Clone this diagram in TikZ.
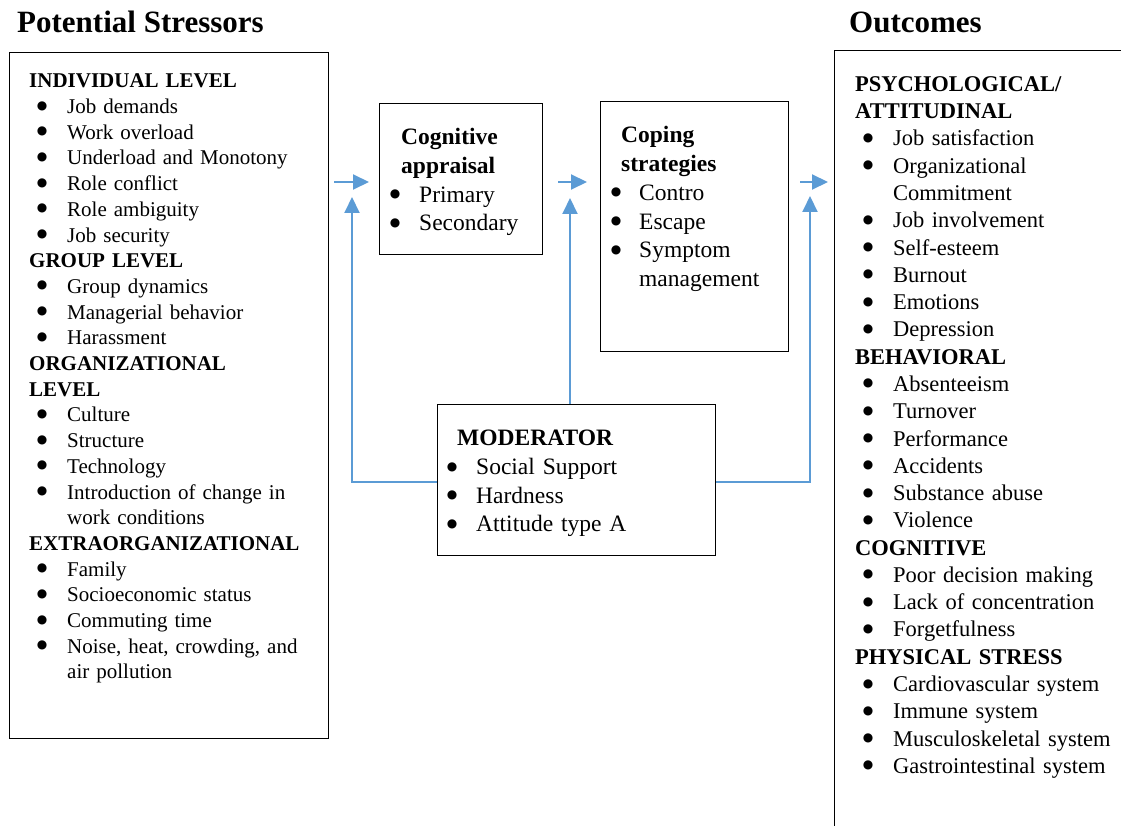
\documentclass[tikz,border=0pt]{standalone}
\usepackage{fontspec}
\setmainfont{Liberation Serif}
\newfontfamily\symfont{DejaVu Sans}
\usetikzlibrary{arrows.meta}

\definecolor{flowblue}{HTML}{5B9BD5}

% list lines: heading, bulleted item, continued item
\newcommand\bdot{\raisebox{4.5pt}{\fontsize{12}{12}\symfont ●}}
\newcommand\hd[1]{\par\noindent\hspace*{\hdx}\textbf{#1}}
\newcommand\bi[1]{\par\noindent\hspace*{\bux}\makebox[0pt]{\bdot}\hspace*{\dimexpr\txx-\bux\relax}#1}
\newcommand\bc[1]{\par\noindent\hspace*{\txx}#1}

\tikzset{
  box/.style={draw, line width=1.2pt, inner sep=0pt, anchor=north west},
  list/.style={anchor=north west, inner sep=0pt, text width=#1},
  offs/.style n args={3}{execute at begin node={\def\hdx{#1pt}\def\bux{#2pt}\def\txx{#3pt}}},
  head/.style={anchor=base west, inner sep=0pt, font=\fontsize{31}{36}\selectfont\bfseries},
  flow/.style={flowblue, line width=2pt, -{Triangle[length=16pt,width=15pt]}},
}

\begin{document}
\begin{tikzpicture}[x=1pt,y=-1pt]
        \useasboundingbox (0,0) rectangle (1121,826);
        \clip (0,0) rectangle (1121,826);

        \node[head] (titleL) at (17,33) {Potential Stressors};
        \node[head] (titleR) at (849,33) {Outcomes};

        % boxes
        \node[box, minimum width=319, minimum height=686] (stress) at (9,52) {};
        \node[box, minimum width=163, minimum height=151] (appr) at (379,103) {};
        \node[box, minimum width=188, minimum height=250] (coping) at (600,101) {};
        \node[box, minimum width=278, minimum height=151] (moder) at (437,404) {};
        \node[box, minimum width=400, minimum height=900] (outc) at (834,50) {};

        % texts (top of node = first baseline - 0.7 baselineskip)
        \node[list=315, offs={20}{33}{58}, font=\fontsize{21}{25.7}\selectfont] (stresslist) at (9,62) {%
          \hd{INDIVIDUAL LEVEL}
          \bi{Job demands}
          \bi{Work overload}
          \bi{Underload and Monotony}
          \bi{Role conflict}
          \bi{Role ambiguity}
          \bi{Job security}
          \hd{GROUP LEVEL}
          \bi{Group dynamics}
          \bi{Managerial behavior}
          \bi{Harassment}
          \hd{ORGANIZATIONAL}
          \hd{LEVEL}
          \bi{Culture}
          \bi{Structure}
          \bi{Technology}
          \bi{Introduction of change in}
          \bc{work conditions}
          \hd{EXTRAORGANIZATIONAL}
          \bi{Family}
          \bi{Socioeconomic status}
          \bi{Commuting time}
          \bi{Noise, heat, crowding, and}
          \bc{air pollution}};
        \node[list=160, offs={22}{16}{40}, font=\fontsize{23.5}{28.7}\selectfont] (apprlist) at (379,115.9) {%
          \hd{Cognitive}
          \hd{appraisal}
          \bi{Primary}
          \bi{Secondary}};
        \node[list=185, offs={21}{16}{39}, font=\fontsize{23.5}{28.8}\selectfont] (copinglist) at (600,113.8) {%
          \hd{Coping}
          \hd{strategies}
          \bi{Contro}
          \bi{Escape}
          \bi{Symptom}
          \bc{management}};
        \node[list=275, offs={20}{15}{39}, font=\fontsize{23.5}{28.7}\selectfont] (moderlist) at (437,416.9) {%
          \hd{MODERATOR}
          \bi{Social Support}
          \bi{Hardness}
          \bi{Attitude type A}};
        \node[list=300, offs={21}{34}{59}, font=\fontsize{22.5}{27.28}\selectfont] (outclist) at (834,63.9) {%
          \hd{PSYCHOLOGICAL/}
          \hd{ATTITUDINAL}
          \bi{Job satisfaction}
          \bi{Organizational}
          \bc{Commitment}
          \bi{Job involvement}
          \bi{Self-esteem}
          \bi{Burnout}
          \bi{Emotions}
          \bi{Depression}
          \hd{BEHAVIORAL}
          \bi{Absenteeism}
          \bi{Turnover}
          \bi{Performance}
          \bi{Accidents}
          \bi{Substance abuse}
          \bi{Violence}
          \hd{COGNITIVE}
          \bi{Poor decision making}
          \bi{Lack of concentration}
          \bi{Forgetfulness}
          \hd{PHYSICAL STRESS}
          \bi{Cardiovascular system}
          \bi{Immune system}
          \bi{Musculoskeletal system}
          \bi{Gastrointestinal system}};

        % connectors
        \coordinate (row) at (0,182);
        \coordinate (fb) at (0,482);
        \coordinate (upL) at (352,197);
        \coordinate (upM) at (570,198);
        \coordinate (upR) at (810,196);
        \draw[flow] ([xshift=5pt]stress.east |- row) -- ([xshift=-10pt]appr.west |- row);
        \draw[flow] ([xshift=15pt]appr.east |- row) -- ([xshift=-13pt]coping.west |- row);
        \draw[flow] ([xshift=11pt]coping.east |- row) -- ([xshift=-6pt]outc.west |- row);
        \draw[flow] (moder.west |- fb) -| (upL);
        \draw[flow] (upM |- moder.north) -- (upM);
        \draw[flow] (moder.east |- fb) -| (upR);
\end{tikzpicture}
\end{document}
